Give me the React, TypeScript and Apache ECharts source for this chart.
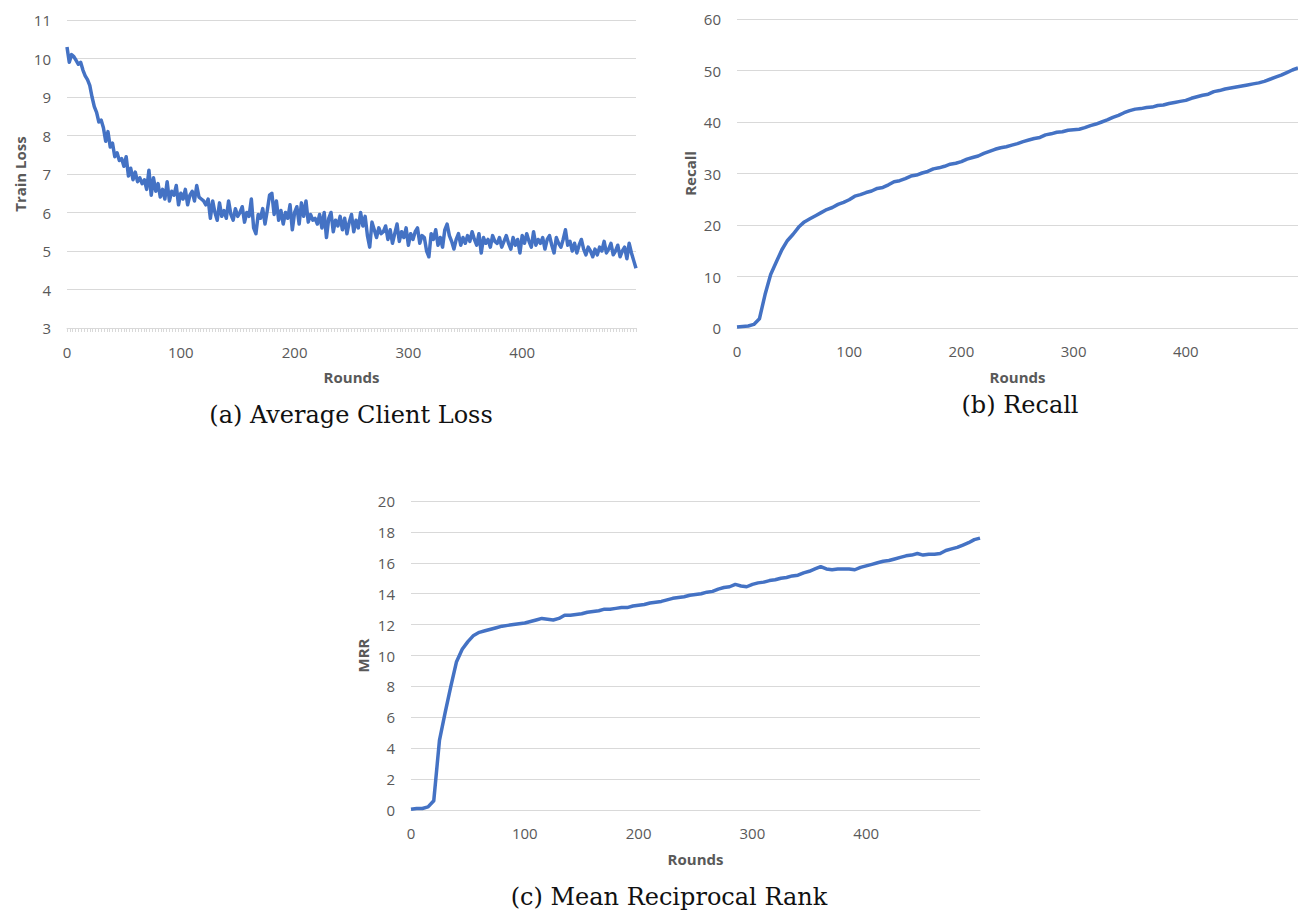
import React, { useEffect, useRef } from "react";
import * as echarts from "echarts";

// ---- Data ----
// (a) Average client train loss, one value every 2 rounds (0..500)
const LOSS_STEP = 2;
const trainLoss = [
  10.3, 9.9, 10.1, 10.05, 9.95, 9.85, 9.9, 9.7, 9.55, 9.45,
  9.3, 9.0, 8.75, 8.6, 8.35, 8.4, 8.2, 7.85, 8.1, 7.7,
  7.8, 7.45, 7.55, 7.35, 7.4, 7.2, 7.45, 6.95, 7.15, 6.85,
  7.05, 6.8, 6.9, 6.75, 6.85, 6.6, 7.1, 6.45, 6.9, 6.55,
  6.75, 6.4, 6.6, 6.35, 6.8, 6.3, 6.55, 6.45, 6.7, 6.2,
  6.5, 6.35, 6.6, 6.2, 6.45, 6.55, 6.3, 6.7, 6.4, 6.35,
  6.3, 6.2, 6.35, 5.85, 6.3, 6.0, 5.8, 6.25, 5.9, 6.05,
  5.85, 6.3, 5.95, 5.8, 6.1, 5.9, 6.0, 6.15, 5.75, 6.0,
  5.9, 6.35, 5.6, 5.45, 5.95, 5.85, 6.1, 5.7, 6.05, 6.45,
  6.5, 5.95, 6.3, 5.8, 6.05, 5.7, 6.0, 5.85, 6.2, 5.55,
  6.0, 6.15, 5.7, 6.25, 5.9, 6.3, 5.75, 5.95, 5.8, 5.85,
  5.7, 5.95, 5.6, 6.0, 5.35, 5.85, 6.0, 5.5, 5.8, 5.65,
  5.9, 5.55, 5.85, 5.45, 5.75, 5.95, 5.5, 5.8, 5.6, 6.0,
  5.65, 5.9, 5.4, 5.1, 5.75, 5.55, 5.35, 5.6, 5.45, 5.5,
  5.65, 5.3, 5.55, 5.2, 5.45, 5.7, 5.25, 5.5, 5.35, 5.6,
  5.15, 5.45, 5.3, 5.5, 5.6, 5.2, 5.4, 5.35, 5.0, 4.85,
  5.45, 5.3, 5.55, 5.15, 5.35, 5.1, 5.55, 5.7, 5.4, 5.25,
  5.05, 5.3, 5.45, 5.15, 5.35, 5.2, 5.4, 5.25, 5.5, 5.3,
  5.15, 5.45, 4.95, 5.35, 5.2, 5.3, 5.1, 5.4, 5.25, 5.2,
  5.35, 5.1, 5.25, 5.4, 5.2, 5.05, 5.35, 5.15, 5.3, 4.95,
  5.4, 5.2, 5.45, 5.25, 5.1, 5.5, 5.15, 5.3, 5.2, 5.35,
  5.05, 5.3, 5.4, 5.15, 4.95, 5.35, 5.2, 5.1, 5.3, 5.55,
  5.15, 5.25, 5.0, 5.2, 4.95, 5.15, 5.3, 5.05, 4.9, 5.1,
  5.0, 4.85, 5.05, 4.9, 5.1, 5.0, 5.25, 4.95, 5.05, 5.2,
  4.9, 5.0, 5.15, 4.85, 5.0, 5.1, 4.8, 5.2, 4.95, 4.75,
  4.55,
];

// (b) Recall, one value every 5 rounds (0..500)
const CURVE_STEP = 5;
const recall = [
  0.2, 0.3, 0.4, 0.7, 1.8, 6.5, 10.4, 12.8, 15.2, 17.0,
  18.2, 19.6, 20.6, 21.2, 21.8, 22.4, 23.0, 23.4, 24.0, 24.4,
  24.9, 25.6, 25.9, 26.3, 26.6, 27.1, 27.3, 27.8, 28.4, 28.6,
  29.0, 29.5, 29.7, 30.1, 30.4, 30.9, 31.1, 31.4, 31.8, 32.0,
  32.3, 32.8, 33.1, 33.4, 33.9, 34.3, 34.7, 35.0, 35.2, 35.5,
  35.8, 36.2, 36.5, 36.8, 37.0, 37.5, 37.7, 38.0, 38.1, 38.4,
  38.5, 38.6, 38.9, 39.3, 39.6, 40.0, 40.4, 40.9, 41.3, 41.8,
  42.2, 42.5, 42.6, 42.8, 42.9, 43.2, 43.3, 43.6, 43.8, 44.0,
  44.2, 44.6, 44.9, 45.2, 45.4, 45.9, 46.1, 46.4, 46.6, 46.8,
  47.0, 47.2, 47.4, 47.6, 47.9, 48.3, 48.7, 49.1, 49.6, 50.1,
  50.5,
];

// (c) Mean Reciprocal Rank, one value every 5 rounds (0..500)
const mrr = [
  0.05, 0.1, 0.1, 0.2, 0.6, 4.5, 6.3, 8.0, 9.6, 10.4,
  10.9, 11.3, 11.5, 11.6, 11.7, 11.8, 11.9, 11.95, 12.0, 12.05,
  12.1, 12.2, 12.3, 12.4, 12.35, 12.3, 12.4, 12.6, 12.6, 12.65,
  12.7, 12.8, 12.85, 12.9, 13.0, 13.0, 13.05, 13.1, 13.1, 13.2,
  13.25, 13.3, 13.4, 13.45, 13.5, 13.6, 13.7, 13.75, 13.8, 13.9,
  13.95, 14.0, 14.1, 14.15, 14.3, 14.4, 14.45, 14.6, 14.5, 14.45,
  14.6, 14.7, 14.75, 14.85, 14.9, 15.0, 15.05, 15.15, 15.2, 15.35,
  15.45, 15.6, 15.75, 15.6, 15.55, 15.6, 15.6, 15.6, 15.55, 15.7,
  15.8, 15.9, 16.0, 16.1, 16.15, 16.25, 16.35, 16.45, 16.5, 16.6,
  16.5, 16.55, 16.55, 16.6, 16.8, 16.9, 17.0, 17.15, 17.3, 17.5,
  17.6,
];

const captions = ["(a) Average Client Loss", "(b) Recall", "(c) Mean Reciprocal Rank"];
const yNames = ["Train Loss", "Recall", "MRR"];
const xName = "Rounds";

const LINE_COLOR = "#4472C4";
const GRID_COLOR = "#d9d9d9";
const LABEL_COLOR = "#595959";
const SANS = "'Open Sans', 'Noto Sans', sans-serif";
const SERIF = "'DejaVu Serif', 'Liberation Serif', serif";

function toPairs(values: number[], step: number) {
  return values.map((v, i) => [i * step, v]);
}

export default function App() {
  const ref = useRef<HTMLDivElement>(null);

  useEffect(() => {
    if (!ref.current) return;
    const chart = echarts.init(ref.current, undefined, { renderer: "svg" });

    const xAxisBase = (gridIndex: number, labelMargin: number) => ({
      type: "value" as const,
      gridIndex,
      min: 0,
      max: 500,
      interval: 100,
      name: xName,
      nameLocation: "middle" as const,
      nameGap: 41,
      nameTextStyle: { fontFamily: SANS, fontSize: 15, fontWeight: "bold", color: LABEL_COLOR },
      axisLine: { show: true, lineStyle: { color: GRID_COLOR, width: 1 } },
      axisTick: { show: false },
      splitLine: { show: false },
      axisLabel: {
        showMaxLabel: false,
        margin: labelMargin,
        fontFamily: SANS,
        fontSize: 15,
        color: LABEL_COLOR,
      },
    });

    const yAxisBase = (gridIndex: number, min: number, max: number, interval: number, name: string, gap: number) => ({
      type: "value" as const,
      gridIndex,
      min,
      max,
      interval,
      name,
      nameLocation: "middle" as const,
      nameGap: gap,
      nameRotate: 90,
      nameTextStyle: { fontFamily: SANS, fontSize: 15, fontWeight: "bold", color: LABEL_COLOR },
      axisLine: { show: false },
      axisTick: { show: false },
      splitLine: { show: true, lineStyle: { color: GRID_COLOR, width: 1 } },
      axisLabel: { margin: 16, fontFamily: SANS, fontSize: 15, color: LABEL_COLOR },
    });

    const xa = xAxisBase(0, 16);
    (xa as any).axisTick = { show: true, length: 4, lineStyle: { color: GRID_COLOR } };
    (xa as any).minorTick = { show: true, splitNumber: 40, length: 4, lineStyle: { color: GRID_COLOR } };

    const lineSeries = (idx: number, data: number[][], width: number) => ({
      type: "line" as const,
      xAxisIndex: idx,
      yAxisIndex: idx,
      data,
      showSymbol: false,
      symbol: "none",
      clip: true,
      lineStyle: { color: LINE_COLOR, width, join: "round" },
      itemStyle: { color: LINE_COLOR },
    });

    const captionStyle = (text: string) => ({
      text,
      fontFamily: SERIF,
      fontSize: 24,
      fill: "#111",
      align: "center",
      verticalAlign: "middle",
    });

    chart.setOption({
      animation: false,
      backgroundColor: "#ffffff",
      grid: [
        { left: 67, top: 20, width: 569, height: 308 },
        { left: 737, top: 19, width: 569, height: 309 },
        { left: 411, top: 501, width: 569, height: 309 },
      ],
      xAxis: [xa, xAxisBase(1, 15), xAxisBase(2, 15)],
      yAxis: [
        yAxisBase(0, 3, 11, 1, yNames[0], 40),
        yAxisBase(1, 0, 60, 10, yNames[1], 40),
        yAxisBase(2, 0, 20, 2, yNames[2], 41),
      ],
      series: [
        lineSeries(0, toPairs(trainLoss, LOSS_STEP), 3.5),
        lineSeries(1, toPairs(recall, CURVE_STEP), 3.5),
        lineSeries(2, toPairs(mrr, CURVE_STEP), 3.5),
      ],
      graphic: [
        { type: "text", x: 351, y: 415, style: captionStyle(captions[0]) },
        { type: "text", x: 1020, y: 405, style: captionStyle(captions[1]) },
        { type: "text", x: 669, y: 897, style: captionStyle(captions[2]) },
      ],
    });

    return () => chart.dispose();
  }, []);

  return (
    <div
      ref={ref}
      style={{ position: "absolute", left: 0, top: 0, width: 1298, height: 914, overflow: "hidden", background: "#fff" }}
    />
  );
}
